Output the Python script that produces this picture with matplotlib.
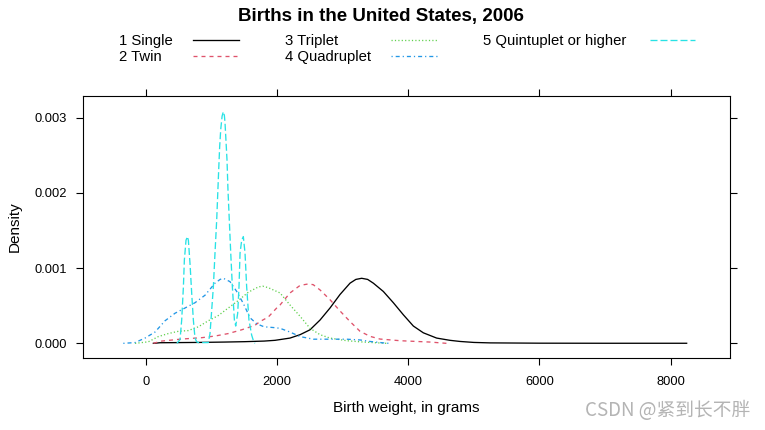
import matplotlib
matplotlib.use("Agg")
import matplotlib.pyplot as plt
from matplotlib.lines import Line2D

plt.rcParams['font.family'] = ['Liberation Sans', 'DejaVu Sans']
plt.rcParams['lines.scale_dashes'] = False

# ---- data (density curves) ----
single_x = [112, 214, 800, 1200, 1500, 1800, 1967, 2044, 2196, 2349, 2501, 2654, 2806,
            2959, 3111, 3200, 3289, 3380, 3467, 3619, 3772, 3924, 4077, 4229, 4432,
            4636, 4789, 5000, 5246, 6000, 7000, 8245]
single_y = [0.0, 0.008, 0.012, 0.017, 0.022, 0.030, 0.040, 0.050, 0.070, 0.115, 0.18,
            0.31, 0.47, 0.65, 0.80, 0.85, 0.865, 0.85, 0.80, 0.69, 0.54, 0.38, 0.23,
            0.14, 0.07, 0.04, 0.025, 0.012, 0.006, 0.002, 0.001, 0.001]

twin_x = [112, 239, 544, 849, 1052, 1255, 1459, 1662, 1739, 1865, 1993, 2044, 2196,
          2349, 2475, 2550, 2654, 2806, 2959, 3111, 3264, 3416, 3568, 3873, 4331, 4585]
twin_y = [0.0, 0.03, 0.057, 0.075, 0.097, 0.13, 0.18, 0.24, 0.29, 0.35, 0.47, 0.51,
          0.67, 0.77, 0.79, 0.78, 0.71, 0.58, 0.43, 0.29, 0.16, 0.093, 0.057, 0.035,
          0.017, 0.0]

triplet_x = [-168, 35, 188, 340, 493, 645, 798, 950, 1103, 1255, 1408, 1560, 1713,
             1780, 1865, 1993, 2044, 2196, 2349, 2501, 2654, 2806, 3060, 3314, 3670]
triplet_y = [0.0, 0.02, 0.09, 0.13, 0.16, 0.17, 0.22, 0.30, 0.37, 0.47, 0.57, 0.68,
             0.75, 0.76, 0.74, 0.69, 0.67, 0.51, 0.36, 0.20, 0.115, 0.07, 0.035, 0.017,
             0.0]

quad_x = [-346, -168, -15, 137, 290, 442, 595, 747, 900, 976, 1052, 1130, 1179, 1281,
          1383, 1484, 1586, 1688, 1800, 1942, 2044, 2196, 2349, 2552, 2800, 3060, 3264,
          3416, 3619, 3700]
quad_y = [0.0, 0.01, 0.07, 0.15, 0.30, 0.40, 0.47, 0.54, 0.64, 0.72, 0.80, 0.85,
          0.865, 0.82, 0.69, 0.53, 0.34, 0.26, 0.22, 0.21, 0.20, 0.15, 0.09, 0.055,
          0.055, 0.055, 0.045, 0.025, 0.006, 0.0]

quint_x = [470, 519, 544, 570, 585, 610, 631, 646, 671, 697, 722, 747, 773, 800, 950,
           976, 1027, 1052, 1078, 1108, 1123, 1139, 1160, 1179, 1195, 1205, 1235, 1250,
           1270, 1292, 1317, 1348, 1368, 1398, 1418, 1434, 1459, 1484, 1510, 1535, 1570,
           1611, 1636, 1660]
quint_y = [0.0, 0.05, 0.31, 0.75, 1.11, 1.37, 1.42, 1.37, 1.06, 0.66, 0.31, 0.07, 0.02,
           0.01, 0.01, 0.13, 0.75, 1.20, 1.64, 2.30, 2.61, 2.84, 3.02, 3.08, 3.03, 2.93,
           2.44, 2.04, 1.64, 1.20, 0.75, 0.31, 0.23, 0.40, 0.75, 1.20, 1.37, 1.42, 1.20,
           0.75, 0.31, 0.11, 0.04, 0.0]

density_unit = 1e-3  # y values above are in units of 0.001

labels = ["1 Single", "2 Twin", "3 Triplet", "4 Quadruplet", "5 Quintuplet or higher"]
colors = ["black", "#DF536B", "#61D04F", "#2297E6", "#28E2E5"]
px = 0.72  # one pixel in points
dashes = [None, (4 * px, 4 * px), (1.2 * px, 2.2 * px), (1.2 * px, 3 * px, 4 * px, 3 * px),
          (7 * px, 3 * px)]
series = [(single_x, single_y), (twin_x, twin_y), (triplet_x, triplet_y),
          (quad_x, quad_y), (quint_x, quint_y)]
LW = 0.95

xticks = [0, 2000, 4000, 6000, 8000]
yticks = [0.000, 0.001, 0.002, 0.003]

fig = plt.figure(figsize=(7.65, 4.30), dpi=100)
W, H = 765, 430
ax = fig.add_axes([83 / W, 1 - 358 / H, (730 - 83) / W, (358 - 96) / H])

for (xs, ys), c, d in zip(series, colors, dashes):
    ln, = ax.plot(xs, [v * density_unit for v in ys], color=c, lw=LW)
    if d is not None:
        ln.set_dashes(d)

ax.set_xlim(-961, 8906)
ax.set_ylim(-0.000195, 0.003289)
ax.set_xticks(xticks)
ax.set_xticklabels([str(t) for t in xticks])
ax.set_yticks(yticks)
ax.set_yticklabels(["%.3f" % t for t in yticks])
ax.tick_params(direction='out', length=5, width=0.8, labelsize=9.3,
               top=True, right=True, labeltop=False, labelright=False, pad=6.5)
ax.tick_params(axis='x', pad=8)
for s in ax.spines.values():
    s.set_linewidth(0.8)

ax.set_xlabel("Birth weight, in grams", fontsize=11)
ax.xaxis.label.set_va('center')
ax.xaxis.set_label_coords(0.5, (358 - 408) / (358 - 96))
ax.set_ylabel("Density", fontsize=11)
ax.yaxis.label.set_va('center')
ax.yaxis.set_label_coords((15 - 83) / (730 - 83), 0.5)

fig.text(381 / W, 1 - 17 / H, "Births in the United States, 2006", ha='center',
         va='center', fontsize=13.5, fontweight='bold')

# legend (key) laid out like lattice's auto.key
leg_items = [(119, 41, 193, 239), (119, 57, 193, 239), (285, 41, 391, 438),
             (285, 57, 391, 438), (483, 41, 650, 695)]
for (tx, ty, l0, l1), lab, c, d in zip(leg_items, labels, colors, dashes):
    fig.text(tx / W, 1 - ty / H, lab, ha='left', va='center', fontsize=10.7)
    ln = Line2D([l0 / W, l1 / W], [1 - (ty - 1) / H, 1 - (ty - 1) / H],
                transform=fig.transFigure, color=c, lw=LW)
    if d is not None:
        ln.set_dashes(d)
    fig.add_artist(ln)

fig.text(750 / W, 1 - 411 / H, "CSDN @紧到长不胖", ha='right', va='center',
         fontsize=13.5, color='#b4b4b4', family=['Noto Sans CJK SC', 'DejaVu Sans'])

fig.savefig("out.png", dpi=100)
